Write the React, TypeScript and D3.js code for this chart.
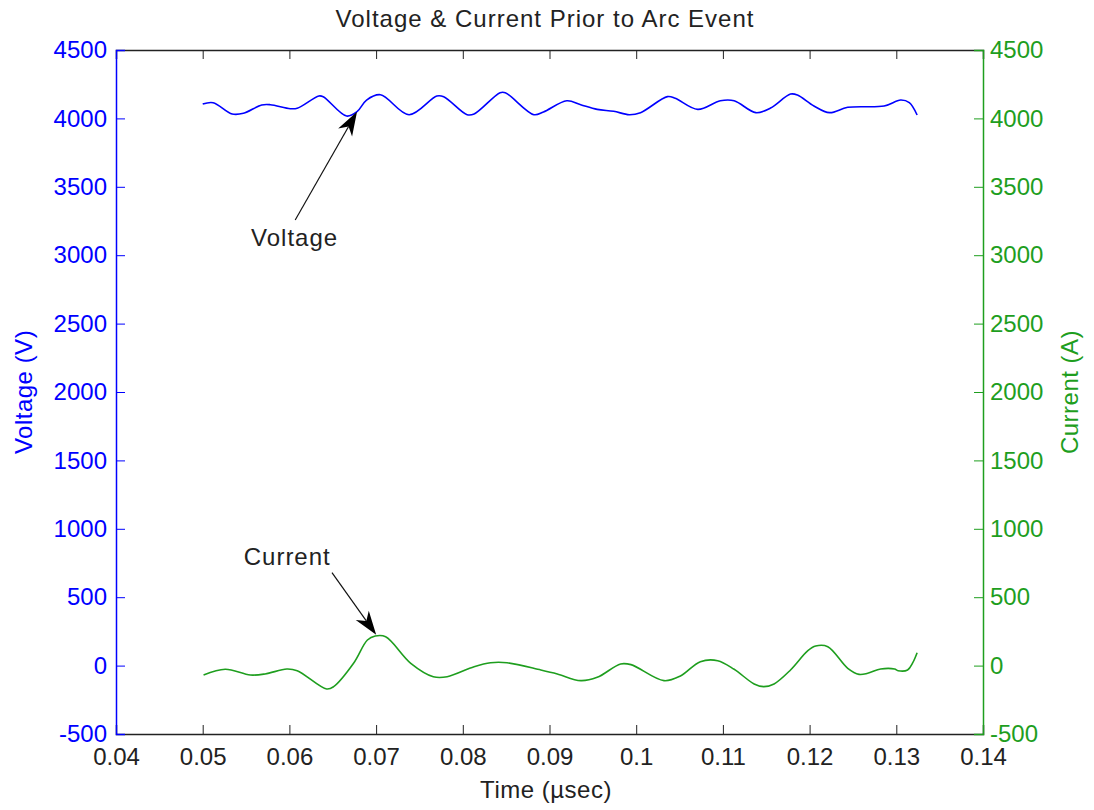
import React, { useRef, useEffect } from 'react';
import * as d3 from 'd3';

// values
const voltageTime = [0.0500, 0.0512, 0.0534, 0.0547, 0.0568, 0.0578, 0.0601, 0.0609, 0.0634, 0.0639, 0.0666, 0.0678, 0.0689, 0.0705, 0.0738, 0.0770, 0.0778, 0.0805, 0.0813, 0.0843, 0.0849, 0.0882, 0.0893, 0.0920, 0.0936, 0.0955, 0.0974, 0.0992, 0.1005, 0.1036, 0.1045, 0.1071, 0.1097, 0.1113, 0.1138, 0.1155, 0.1178, 0.1186, 0.1205, 0.1223, 0.1244, 0.1286, 0.1305, 0.1315, 0.1324];
const voltage = [4105, 4115, 4032, 4037, 4098, 4100, 4071, 4074, 4164, 4159, 4017, 4049, 4134, 4173, 4027, 4164, 4159, 4027, 4032, 4188, 4188, 4027, 4047, 4129, 4100, 4066, 4052, 4027, 4042, 4159, 4147, 4066, 4129, 4129, 4042, 4076, 4178, 4171, 4091, 4042, 4081, 4091, 4134, 4115, 4025];

const currentTime = [0.0501, 0.0526, 0.0555, 0.0572, 0.0597, 0.0609, 0.0643, 0.0651, 0.0674, 0.0690, 0.0699, 0.0711, 0.0740, 0.0766, 0.0782, 0.0813, 0.0832, 0.0851, 0.0890, 0.0909, 0.0936, 0.0955, 0.0982, 0.0994, 0.1032, 0.1051, 0.1074, 0.1094, 0.1113, 0.1136, 0.1147, 0.1159, 0.1178, 0.1198, 0.1207, 0.1221, 0.1244, 0.1257, 0.1267, 0.1282, 0.1298, 0.1302, 0.1313, 0.1319, 0.1324];
const current = [-69, -27, -69, -61, -25, -37, -171, -154, 17, 187, 216, 211, 17, -81, -81, -8, 21, 21, -32, -61, -110, -86, 12, 7, -110, -76, 29, 36, -27, -134, -154, -134, -32, 109, 143, 138, -20, -64, -56, -25, -25, -37, -32, 21, 94];

const xTicks = [0.04, 0.05, 0.06, 0.07, 0.08, 0.09, 0.1, 0.11, 0.12, 0.13, 0.14];
const yTicks = [-500, 0, 500, 1000, 1500, 2000, 2500, 3000, 3500, 4000, 4500];

const colors = {
    voltage: '#0000ff',
    current: '#1e9e1e',
    ink: '#222222'
};

const font = '"Liberation Sans", Arial, sans-serif';

export default function App() {
    const svgRef = useRef<SVGSVGElement | null>(null);

    useEffect(() => {
        if (!svgRef.current) return;
        document.body.style.margin = '0';

        const width = 1094;
        const height = 810;
        const margin = { top: 50, right: 111, bottom: 76, left: 116 };
        const w = width - margin.left - margin.right;
        const h = height - margin.top - margin.bottom;

        const svg = d3.select(svgRef.current);
        svg.selectAll('*').remove();
        svg.attr('width', width).attr('height', height);

        const g = svg.append('g').attr('transform', `translate(${margin.left},${margin.top})`);

        const x = d3.scaleLinear().domain([0.04, 0.14]).range([0, w]);
        const yV = d3.scaleLinear().domain([-500, 4500]).range([h, 0]);
        const yC = d3.scaleLinear().domain([-500, 4500]).range([h, 0]);
        const tickLen = 9;
        const plain = (d: d3.NumberValue) => String(d);

        // bottom and top (box) axes
        const bottom = g.append('g').attr('transform', `translate(0,${h})`)
            .call(d3.axisBottom(x).tickValues(xTicks).tickSize(-tickLen).tickPadding(14).tickFormat(plain));
        bottom.selectAll('path, line').attr('stroke', colors.ink);
        bottom.selectAll('text').attr('fill', colors.ink).attr('font-size', 24).attr('font-family', font);

        const top = g.append('g')
            .call(d3.axisTop(x).tickValues(xTicks).tickSize(-tickLen).tickFormat(() => ''));
        top.selectAll('path, line').attr('stroke', colors.ink);

        // left axis (voltage)
        const left = g.append('g')
            .call(d3.axisLeft(yV).tickValues(yTicks).tickSize(-tickLen).tickPadding(9).tickFormat(plain));
        left.selectAll('path, line').attr('stroke', colors.voltage);
        left.selectAll('text').attr('fill', colors.voltage).attr('font-size', 24).attr('font-family', font);

        // right axis (current)
        const right = g.append('g').attr('transform', `translate(${w},0)`)
            .call(d3.axisRight(yC).tickValues(yTicks).tickSize(-tickLen).tickPadding(7).tickFormat(plain));
        right.selectAll('path, line').attr('stroke', colors.current);
        right.selectAll('text').attr('fill', colors.current).attr('font-size', 24).attr('font-family', font);

        g.selectAll('.domain').attr('stroke-width', 1.5);

        // series
        const vLine = d3.line<number>()
            .x((d, i) => x(voltageTime[i]))
            .y(d => yV(d))
            .curve(d3.curveCatmullRom.alpha(0.5));
        g.append('path').datum(voltage)
            .attr('fill', 'none').attr('stroke', colors.voltage).attr('stroke-width', 1.6)
            .attr('d', vLine);

        const cLine = d3.line<number>()
            .x((d, i) => x(currentTime[i]))
            .y(d => yC(d))
            .curve(d3.curveCatmullRom.alpha(0.5));
        g.append('path').datum(current)
            .attr('fill', 'none').attr('stroke', colors.current).attr('stroke-width', 1.6)
            .attr('d', cLine);

        // annotations
        const arrow = (x1: number, y1: number, x2: number, y2: number) => {
            const ang = Math.atan2(y2 - y1, x2 - x1);
            const len = 24, back = 17, half = 8;
            const bx = x2 - Math.cos(ang) * back, by = y2 - Math.sin(ang) * back;
            g.append('line')
                .attr('x1', x1).attr('y1', y1).attr('x2', bx).attr('y2', by)
                .attr('stroke', '#111').attr('stroke-width', 1.2);
            const ex = x2 - Math.cos(ang) * len, ey = y2 - Math.sin(ang) * len;
            const nx = -Math.sin(ang) * half, ny = Math.cos(ang) * half;
            g.append('path')
                .attr('d', `M${x2},${y2}L${ex + nx},${ey + ny}L${bx},${by}L${ex - nx},${ey - ny}Z`)
                .attr('fill', '#000');
        };
        arrow(x(0.06067), yV(3257), x(0.0678), yV(4049));
        arrow(x(0.06491), yC(679), x(0.07001), yC(225));

        g.append('text').attr('x', x(0.0606)).attr('y', yV(3132)).attr('dy', '0.35em')
            .attr('text-anchor', 'middle').attr('font-size', 24).attr('letter-spacing', 1)
            .attr('font-family', font).attr('fill', colors.ink).text('Voltage');
        g.append('text').attr('x', x(0.05975)).attr('y', yC(794)).attr('dy', '0.35em')
            .attr('text-anchor', 'middle').attr('font-size', 24).attr('letter-spacing', 1)
            .attr('font-family', font).attr('fill', colors.ink).text('Current');

        // titles
        svg.append('text').attr('x', 545).attr('y', 27)
            .attr('text-anchor', 'middle').attr('font-size', 24).attr('letter-spacing', 1)
            .attr('font-family', font).attr('fill', colors.ink)
            .text('Voltage & Current Prior to Arc Event');
        svg.append('text').attr('x', 546).attr('y', 798)
            .attr('text-anchor', 'middle').attr('font-size', 24).attr('letter-spacing', 0.5)
            .attr('font-family', font).attr('fill', colors.ink)
            .text('Time (\u00b5sec)');
        svg.append('text').attr('transform', 'translate(32,392) rotate(-90)')
            .attr('text-anchor', 'middle').attr('font-size', 24).attr('letter-spacing', 0.5)
            .attr('font-family', font).attr('fill', colors.voltage)
            .text('Voltage (V)');
        svg.append('text').attr('transform', 'translate(1078,392) rotate(-90)')
            .attr('text-anchor', 'middle').attr('font-size', 24).attr('letter-spacing', 0.5)
            .attr('font-family', font).attr('fill', colors.current)
            .text('Current (A)');
    }, []);

    return <svg ref={svgRef} style={{ display: 'block' }}></svg>;
}
